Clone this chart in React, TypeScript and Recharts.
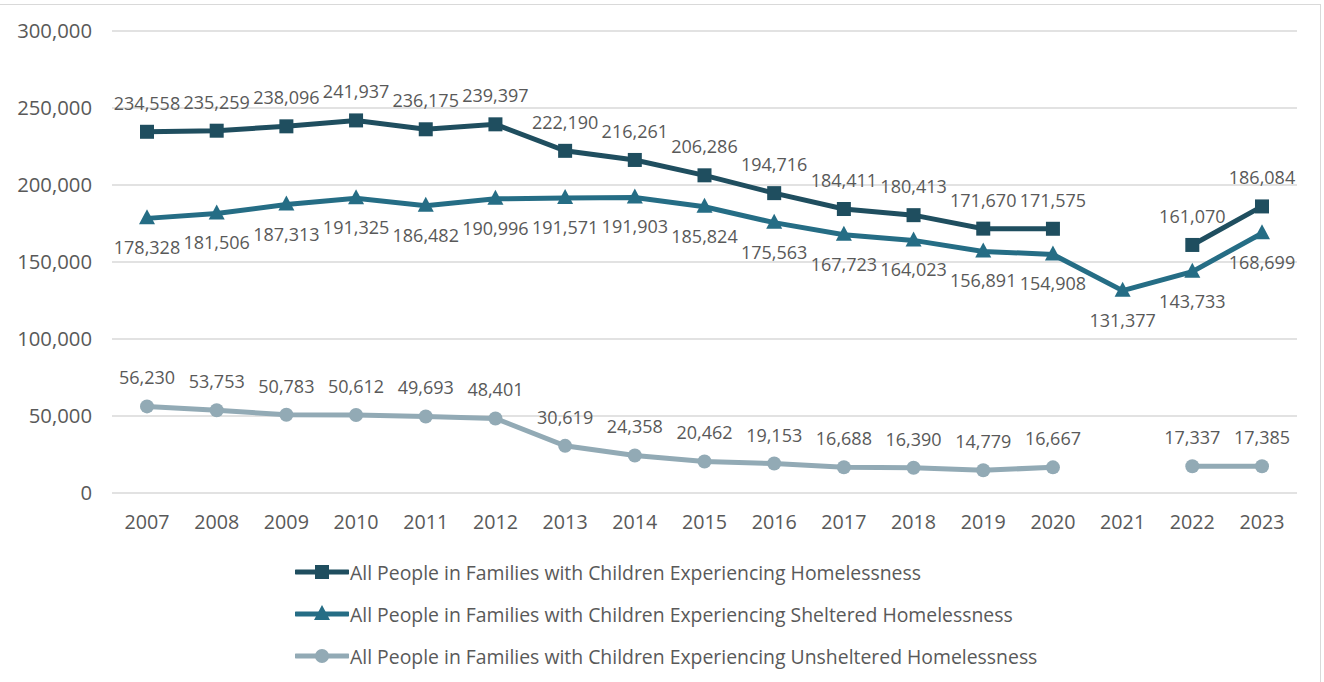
import { CartesianGrid, LabelList, Legend, Line, LineChart, XAxis, YAxis } from "recharts"

const years = ["2007", "2008", "2009", "2010", "2011", "2012", "2013", "2014", "2015", "2016", "2017", "2018", "2019", "2020", "2021", "2022", "2023"]
const total = [234558, 235259, 238096, 241937, 236175, 239397, 222190, 216261, 206286, 194716, 184411, 180413, 171670, 171575, null, 161070, 186084]
const sheltered = [178328, 181506, 187313, 191325, 186482, 190996, 191571, 191903, 185824, 175563, 167723, 164023, 156891, 154908, 131377, 143733, 168699]
const unsheltered = [56230, 53753, 50783, 50612, 49693, 48401, 30619, 24358, 20462, 19153, 16688, 16390, 14779, 16667, null, 17337, 17385]
const yTicks = [0, 50000, 100000, 150000, 200000, 250000, 300000]

const names = {
  total: "All People in Families with Children Experiencing Homelessness",
  sheltered: "All People in Families with Children Experiencing Sheltered Homelessness",
  unsheltered: "All People in Families with Children Experiencing Unsheltered Homelessness",
}

const data = years.map((year, i) => ({
  year,
  total: total[i],
  sheltered: sheltered[i],
  unsheltered: unsheltered[i],
}))

const DARK = "#1f4e5f"
const MID = "#256d85"
const LIGHT = "#92aab5"
const TEXT = "#595959"
const FONT = "'Open Sans', sans-serif"

const fmt = (v: number) => v.toLocaleString("en-US")

function makeLabel(dy: number) {
  return (props: any) => {
    const { x, y, value } = props
    if (value == null) return null
    return (
      <text x={x} y={y + dy} textAnchor="middle" dominantBaseline="central" fill={TEXT} fontSize={18} fontFamily={FONT}>
        {fmt(value)}
      </text>
    )
  }
}

function Square(props: any) {
  const { cx, cy, value } = props
  if (value == null || cx == null) return null
  return <rect x={cx - 7} y={cy - 7} width={14} height={14} fill={DARK} />
}

function Triangle(props: any) {
  const { cx, cy, value } = props
  if (value == null || cx == null) return null
  return <path d={`M${cx},${cy - 9} L${cx + 8},${cy + 6} L${cx - 8},${cy + 6} Z`} fill={MID} />
}

function Circle(props: any) {
  const { cx, cy, value } = props
  if (value == null || cx == null) return null
  return <circle cx={cx} cy={cy} r={7} fill={LIGHT} />
}

function LegendIcon({ kind, color }: { kind: string; color: string }) {
  return (
    <svg width={54} height={20} style={{ marginRight: 1 }}>
      <line x1={1} y1={10} x2={53} y2={10} stroke={color} strokeWidth={5} strokeLinecap="round" />
      {kind === "square" && <rect x={20} y={3} width={14} height={14} fill={color} />}
      {kind === "triangle" && <path d="M27,1 L35,16 L19,16 Z" fill={color} />}
      {kind === "circle" && <circle cx={27} cy={10} r={7} fill={color} />}
    </svg>
  )
}

function LegendBox() {
  const rows = [
    { kind: "square", color: DARK, label: names.total },
    { kind: "triangle", color: MID, label: names.sheltered },
    { kind: "circle", color: LIGHT, label: names.unsheltered },
  ]
  return (
    <div style={{ paddingLeft: 295, height: 126, fontFamily: FONT, fontSize: 19.4, color: TEXT }}>
      {rows.map((r) => (
        <div key={r.label} style={{ display: "flex", alignItems: "center", height: 42 }}>
          <LegendIcon kind={r.kind} color={r.color} />
          <span>{r.label}</span>
        </div>
      ))}
    </div>
  )
}

export default function App() {
  return (
    <div style={{ position: "absolute", left: 0, top: 0, width: 1324, height: 682, background: "#fff" }}>
      <div style={{ position: "absolute", left: 0, top: 4, width: 1320, height: 678, borderTop: "1px solid #d9d9d9", borderRight: "1px solid #d9d9d9" }} />
      <LineChart width={1324} height={682} data={data} margin={{ top: 31, right: 27, left: 12, bottom: 5 }}>
        <CartesianGrid vertical={false} stroke="#d9d9d9" strokeWidth={1.5} />
        <XAxis
          dataKey="year"
          axisLine={false}
          tickLine={false}
          height={58}
          padding={{ left: 35, right: 35 }}
          tick={{ fill: TEXT, fontSize: 19.7, fontFamily: FONT }}
          tickMargin={16}
        />
        <YAxis
          domain={[0, 300000]}
          ticks={yTicks}
          axisLine={false}
          tickLine={false}
          width={100}
          tickFormatter={fmt}
          tick={{ fill: TEXT, fontSize: 20.3, fontFamily: FONT }}
          tickMargin={14}
        />
        <Legend verticalAlign="bottom" content={<LegendBox />} wrapperStyle={{ left: 0, width: 1324 }} />
        <Line
          dataKey="total"
          name={names.total}
          stroke={DARK}
          strokeWidth={5}
          dot={<Square />}
          activeDot={false}
          isAnimationActive={false}
        >
          <LabelList dataKey="total" content={makeLabel(-29)} />
        </Line>
        <Line
          dataKey="sheltered"
          name={names.sheltered}
          stroke={MID}
          strokeWidth={5}
          dot={<Triangle />}
          activeDot={false}
          isAnimationActive={false}
        >
          <LabelList dataKey="sheltered" content={makeLabel(29)} />
        </Line>
        <Line
          dataKey="unsheltered"
          name={names.unsheltered}
          stroke={LIGHT}
          strokeWidth={5}
          dot={<Circle />}
          activeDot={false}
          isAnimationActive={false}
        >
          <LabelList dataKey="unsheltered" content={makeLabel(-29)} />
        </Line>
      </LineChart>
    </div>
  )
}
